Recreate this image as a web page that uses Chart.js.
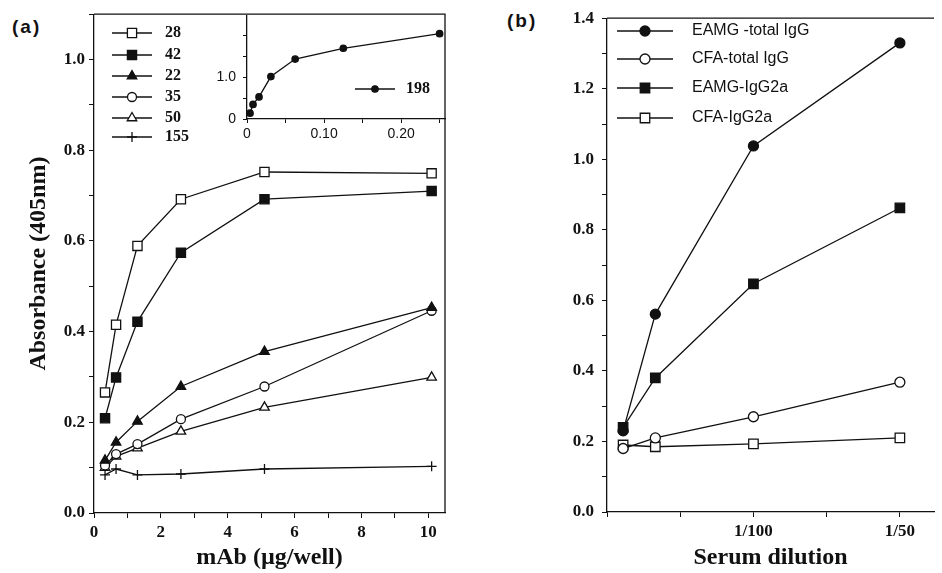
<!DOCTYPE html>
<html>
<head>
<meta charset="utf-8">
<script src="https://cdn.jsdelivr.net/npm/chart.js@4.4.0/dist/chart.umd.min.js"></script>
<style>
  body { margin: 0; background: #fff; width: 942px; height: 573px; position: relative; overflow: hidden; }
  .box { position: absolute; }
  .tag { position: absolute; font: bold 19px "Liberation Sans", Arial, sans-serif; letter-spacing: 2px; color: #111; }
</style>
</head>
<body>
<div class="tag" style="left:12px;top:16px">(a)</div>
<div class="tag" style="left:507px;top:10px">(b)</div>
<div class="box" style="left:0;top:0;width:470px;height:573px"><canvas id="chartA"></canvas></div>
<div class="box" style="left:205px;top:0;width:245px;height:150px"><canvas id="chartIn"></canvas></div>
<div class="box" style="left:520px;top:0;width:422px;height:573px"><canvas id="chartB"></canvas></div>
<script>
// panel (a): mAb dose vs absorbance
const doseUg = [0.33, 0.66, 1.3, 2.6, 5.1, 10.1];
const abs28  = [0.266, 0.415, 0.589, 0.692, 0.752, 0.749];
const abs42  = [0.209, 0.299, 0.422, 0.574, 0.692, 0.710];
const abs22  = [0.116, 0.156, 0.202, 0.279, 0.356, 0.453];
const abs35  = [0.105, 0.130, 0.152, 0.207, 0.279, 0.446];
const abs50  = [0.100, 0.125, 0.143, 0.180, 0.233, 0.299];
const abs155 = [0.084, 0.097, 0.084, 0.086, 0.097, 0.103];

// inset: mAb 198
const doseInset = [0.0039, 0.0078, 0.0156, 0.031, 0.0625, 0.125, 0.25];
const abs198    = [0.14, 0.35, 0.53, 1.02, 1.44, 1.70, 2.05];

// panel (b): serum dilution
const dilution  = [0.0011, 0.0033, 0.01, 0.02];
const eamgTotal = [0.23, 0.561, 1.038, 1.33];
const cfaTotal  = [0.18, 0.21, 0.27, 0.368];
const eamgG2a   = [0.24, 0.38, 0.647, 0.862];
const cfaG2a    = [0.19, 0.185, 0.193, 0.21];

// tick labels
const dilutionTicks  = [0.01, 0.02];
const dilutionLabels = ['1/100', '1/50'];
const insetXTicks  = [0, 0.1, 0.2];
const insetXLabels = ['0', '0.10', '0.20'];
const insetYTicks  = [0, 1];
const insetYLabels = ['0', '1.0'];

const INK = '#111';
const serif = '"Liberation Serif", "Times New Roman", serif';
const sans = '"Liberation Sans", Arial, sans-serif';

function pts(xs, ys) {
    return xs.map((x, i) => ({ x: x, y: ys[i] }));
}

function series(label, xs, ys, style, filled, r) {
    return {
        label: label,
        data: pts(xs, ys),
        showLine: true,
        borderColor: INK,
        borderWidth: 1.3,
        pointStyle: style,
        pointRadius: r,
        pointHoverRadius: r,
        pointBorderWidth: 1.3,
        pointBorderColor: INK,
        pointBackgroundColor: filled ? INK : '#fff'
    };
}

function labelAt(ticks, labels) {
    return function(v) {
        const i = ticks.findIndex(t => Math.abs(t - v) < 1e-9);
        return i < 0 ? '' : labels[i];
    };
}

// top / right border of the plot box
const frame = {
    id: 'frame',
    afterDatasetsDraw(chart, args, opts) {
        if (!opts.show) return;
        const { ctx, chartArea: a } = chart;
        ctx.save();
        ctx.strokeStyle = INK;
        ctx.lineWidth = 1.3;
        ctx.beginPath();
        ctx.moveTo(a.left, a.top);
        ctx.lineTo(a.right, a.top);
        if (opts.right) ctx.lineTo(a.right, a.bottom);
        ctx.stroke();
        ctx.restore();
    }
};

// legend rows: line, marker in the middle, label
const keyList = {
    id: 'keyList',
    afterDraw(chart, args, opts) {
        if (!opts.rows) return;
        const ctx = chart.ctx;
        chart.data.datasets.forEach((ds, i) => {
            const y = opts.rows[i];
            ctx.save();
            ctx.strokeStyle = ds.borderColor;
            ctx.lineWidth = ds.borderWidth;
            ctx.beginPath();
            ctx.moveTo(opts.x, y);
            ctx.lineTo(opts.x + opts.len, y);
            ctx.stroke();
            ctx.fillStyle = ds.pointBackgroundColor;
            ctx.strokeStyle = ds.pointBorderColor;
            ctx.lineWidth = ds.pointBorderWidth;
            Chart.helpers.drawPoint(ctx, {
                pointStyle: ds.pointStyle, radius: ds.pointRadius,
                rotation: 0, borderWidth: ds.pointBorderWidth
            }, opts.x + opts.len / 2, y);
            ctx.fillStyle = INK;
            ctx.font = opts.font;
            ctx.textBaseline = 'middle';
            ctx.textAlign = 'left';
            ctx.fillText(ds.label, opts.textX, y);
            ctx.restore();
        });
    }
};

function axis(o) {
    return {
        type: 'linear',
        min: o.min, max: o.max,
        border: { display: true, color: INK, width: 1.3 },
        grid: { display: true, drawOnChartArea: false, drawTicks: true, tickLength: o.tl || 5, tickColor: INK, tickWidth: 1 },
        ticks: {
            stepSize: o.step, autoSkip: false, includeBounds: false, maxRotation: 0,
            color: INK, padding: o.pad, font: o.font, callback: o.cb
        },
        title: o.title ? {
            display: true, text: o.title, color: INK,
            font: { family: serif, size: 24, weight: 'bold' }, padding: o.tpad
        } : { display: false },
        afterFit: o.fit
    };
}

const tickFont = { family: serif, size: 17, weight: 'bold' };

new Chart(document.getElementById('chartA'), {
    type: 'scatter',
    data: {
        datasets: [
            series('28', doseUg, abs28, 'rect', false, 6.5),
            series('42', doseUg, abs42, 'rect', true, 6.5),
            series('22', doseUg, abs22, 'triangle', true, 5.5),
            series('35', doseUg, abs35, 'circle', false, 4.5),
            series('50', doseUg, abs50, 'triangle', false, 5.5),
            series('155', doseUg, abs155, 'cross', false, 5)
        ]
    },
    options: {
        responsive: true, maintainAspectRatio: false, animation: false,
        layout: { padding: { top: 12, right: 25, left: 0, bottom: 0 } },
        plugins: {
            legend: { display: false }, tooltip: { enabled: false },
            frame: { show: true, right: true },
            keyList: { rows: [33, 55, 76, 97, 118, 137], x: 112, len: 40, textX: 165, font: 'bold 16px ' + serif }
        },
        scales: {
            x: axis({
                min: 0, max: 10.5, step: 1, pad: 4, font: tickFont,
                cb: v => (Math.round(v) % 2 === 0 ? String(Math.round(v)) : ''),
                title: 'mAb (\u00b5g/well)', tpad: { top: 0, bottom: 1 },
                fit: s => { s.height = 60; }
            }),
            y: axis({
                min: 0, max: 1.1, step: 0.1, pad: 4, font: tickFont,
                cb: v => (Math.round(v * 10) % 2 === 0 ? v.toFixed(1) : ''),
                title: 'Absorbance (405nm)', tpad: { top: 24, bottom: 0 },
                fit: s => { s.width = 94; }
            })
        }
    },
    plugins: [frame, keyList]
});

const insetFont = { family: sans, size: 14 };

new Chart(document.getElementById('chartIn'), {
    type: 'scatter',
    data: {
        datasets: [series('198', doseInset, abs198, 'circle', true, 3.2)]
    },
    options: {
        responsive: true, maintainAspectRatio: false, animation: false,
        layout: { padding: { top: 12, right: 5, left: 0, bottom: 0 } },
        plugins: {
            legend: { display: false }, tooltip: { enabled: false },
            frame: { show: false },
            keyList: { rows: [89], x: 150, len: 40, textX: 201, font: 'bold 16px ' + serif }
        },
        scales: {
            x: axis({
                min: 0, max: 0.257, step: 0.05, pad: 3, tl: 4, font: insetFont,
                cb: labelAt(insetXTicks, insetXLabels),
                fit: s => { s.height = 31; }
            }),
            y: axis({
                min: 0, max: 2.49, step: 0.5, pad: 7, tl: 4, font: insetFont,
                cb: labelAt(insetYTicks, insetYLabels),
                fit: s => { s.width = 42; }
            })
        }
    },
    plugins: [frame, keyList]
});

new Chart(document.getElementById('chartB'), {
    type: 'scatter',
    data: {
        datasets: [
            series('EAMG -total IgG', dilution, eamgTotal, 'circle', true, 5),
            series('CFA-total IgG', dilution, cfaTotal, 'circle', false, 5),
            series('EAMG-IgG2a', dilution, eamgG2a, 'rect', true, 6.7),
            series('CFA-IgG2a', dilution, cfaG2a, 'rect', false, 6.7)
        ]
    },
    options: {
        responsive: true, maintainAspectRatio: false, animation: false,
        layout: { padding: { top: 13, right: 0, left: 0, bottom: 0 } },
        plugins: {
            legend: { display: false }, tooltip: { enabled: false },
            frame: { show: true, right: false },
            keyList: { rows: [31, 59, 88, 118], x: 97, len: 56, textX: 172, font: '16px ' + sans }
        },
        scales: {
            x: axis({
                min: 0, max: 0.02233, step: 0.005, pad: 4, font: tickFont,
                cb: labelAt(dilutionTicks, dilutionLabels),
                title: 'Serum dilution', tpad: { top: 0, bottom: 1 },
                fit: s => { s.height = 61; }
            }),
            y: axis({
                min: 0, max: 1.4, step: 0.1, pad: 8, font: tickFont,
                cb: v => (Math.round(v * 10) % 2 === 0 ? v.toFixed(1) : ''),
                fit: s => { s.width = 87; }
            })
        }
    },
    plugins: [frame, keyList]
});
</script>
</body>
</html>
